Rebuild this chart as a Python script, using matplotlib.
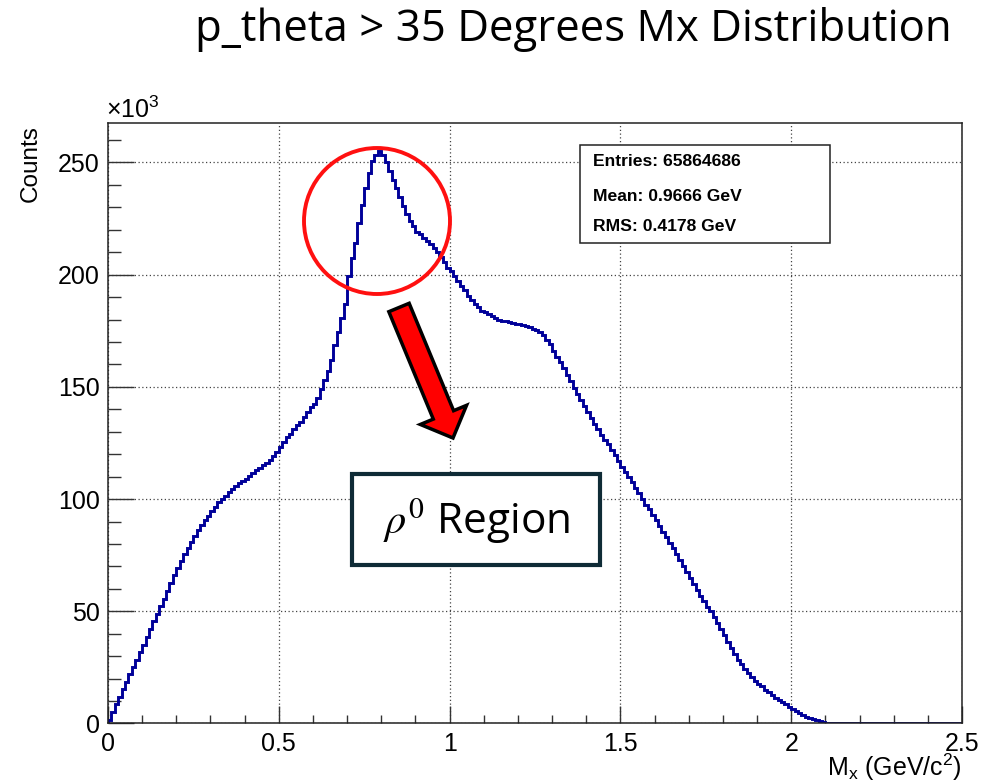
import matplotlib
matplotlib.use("Agg")
import matplotlib.pyplot as plt
import numpy as np
from matplotlib.patches import Circle, FancyArrow, Rectangle
from matplotlib.ticker import MultipleLocator

plt.rcParams["font.family"] = ["Liberation Sans", "DejaVu Sans"]
plt.rcParams["mathtext.fontset"] = "custom"
plt.rcParams["mathtext.rm"] = "Liberation Sans"
plt.rcParams["mathtext.it"] = "Liberation Sans:italic"

# Missing-mass histogram, 0.01 GeV bins from 0 to 2.5, counts in thousands
bin_width = 0.01
x_min, x_max = 0.0, 2.5
counts_k = [
    1.5, 5, 8.5, 12, 15.5, 18.5, 22, 25, 28.5, 32,
    35, 38.5, 42, 45.5, 49, 52.5, 55.5, 59, 62.5, 66,
    69.5, 72.5, 75.5, 78, 81, 83.5, 86, 88.5, 90.5, 92.5,
    94.5, 96.5, 98.5, 100, 101.5, 103, 104.5, 106, 107, 108,
    109, 110.5, 111.5, 113, 114, 115, 116, 117.5, 119, 121,
    123, 125.5, 127.5, 129, 131, 133, 134.5, 136.5, 139, 141,
    142.5, 145, 149, 153, 157, 162, 168.5, 174.5, 180.5, 187,
    199.5, 207.5, 214, 223, 231, 238.5, 245.5, 250.5, 253.5, 255,
    253.5, 250, 246, 242, 238.5, 234.5, 230.5, 227, 224, 221.5,
    219, 218, 216.5, 215, 213.5, 212, 210, 208, 205.5, 203,
    201.5, 199.5, 197, 195, 193, 190.5, 188.5, 187, 185.5, 184,
    183.5, 182.5, 181.5, 180.5, 180, 179.5, 179.5, 179, 178.5, 178,
    178, 177.5, 177, 176.5, 176, 175.5, 174.5, 173, 171, 169,
    166, 163.5, 161, 158.5, 155.5, 152.5, 149.5, 147, 144, 141.5,
    139, 136, 133.5, 131, 128.5, 126.5, 124.5, 122, 119.5, 117,
    114.5, 112, 110, 107.5, 105, 102.5, 100, 97.5, 95.5, 93,
    90.5, 88, 85.5, 83, 80.5, 78, 75.5, 73, 70, 67.5,
    65, 62, 59.5, 57, 54.5, 52, 50, 47.5, 45, 42,
    39.5, 36.5, 33.5, 31, 28.5, 26.5, 24.5, 22.5, 20.5, 19,
    17.5, 16.5, 15, 14, 12.5, 11.5, 10.5, 9.5, 8.5, 7.5,
    6.5, 5.5, 4.5, 3.7, 3, 2.4, 1.9, 1.4, 1, 0.7,
    0.4, 0.2, 0.1, 0.05, 0, 0, 0, 0, 0, 0,
    0, 0, 0, 0, 0, 0, 0, 0, 0, 0,
    0, 0, 0, 0, 0, 0, 0, 0, 0, 0,
    0, 0, 0, 0, 0, 0, 0, 0, 0, 0,
]
stats_lines = ["Entries: 65864686", "Mean: 0.9666 GeV", "RMS: 0.4178 GeV"]
title = "p_theta > 35 Degrees Mx Distribution"

edges = np.linspace(x_min, x_max, len(counts_k) + 1)

fig = plt.figure(figsize=(9.96, 7.83), dpi=100)
ax = fig.add_axes([0.1084, 0.076, 0.8575, 0.767])

ax.stairs(counts_k, edges, color="#000099", lw=2.1, baseline=0)

ax.set_xlim(x_min, x_max)
ax.set_ylim(0, 267.6)
ax.xaxis.set_major_locator(MultipleLocator(0.5))
ax.xaxis.set_minor_locator(MultipleLocator(0.1))
ax.yaxis.set_major_locator(MultipleLocator(50))
ax.yaxis.set_minor_locator(MultipleLocator(10))
ax.xaxis.set_major_formatter(lambda v, p: f"{v:g}")
ax.yaxis.set_major_formatter(lambda v, p: f"{v:g}")

ax.tick_params(axis="x", which="major", direction="in", length=12, width=1,
               labelsize=18, pad=6, color="#333333")
ax.tick_params(axis="x", which="minor", direction="in", length=6, width=1,
               color="#333333")
ax.tick_params(axis="y", which="major", direction="in", length=19, width=1,
               labelsize=18, pad=6, color="#333333")
ax.tick_params(axis="y", which="minor", direction="in", length=9.5, width=1,
               color="#333333")
for side in ["left", "bottom", "right", "top"]:
    ax.spines[side].set_linewidth(1.1)
    ax.spines[side].set_color("#222222")

ax.grid(True, which="major", linestyle=(0, (1, 2)), color="#444444", lw=0.9)
ax.set_axisbelow(True)

ax.set_xlabel(r"M$_{\mathrm{x}}$ (GeV/c$^{2}$)", fontsize=18, ha="right",
              va="top")
ax.xaxis.set_label_coords(1.0, -0.047)

# Stats box
ax.add_patch(Rectangle((0.553, 0.800), 0.292, 0.163, transform=ax.transAxes,
                       facecolor="white", edgecolor="#222222", lw=1.1,
                       zorder=5))
for line, yy in zip(stats_lines, [0.936, 0.878, 0.828]):
    ax.text(0.568, yy, line, transform=ax.transAxes, fontsize=12.6,
            fontweight="bold", va="center", ha="left", zorder=6)

# Overlay in pixel units for annotations
ov = fig.add_axes([0, 0, 1, 1], facecolor="none")
ov.set_xlim(0, 996)
ov.set_ylim(783, 0)
ov.axis("off")

ov.text(31, 125, "Counts", rotation=90, ha="center", va="top", fontsize=17.5)
ov.text(106, 123, r"$\times$10$^{3}$", ha="left", va="bottom", fontsize=18)

ov.text(573, 30, title, ha="center", va="center", fontsize=31.5,
        family=["Open Sans", "DejaVu Sans"])

ov.add_patch(Circle((377, 221), 73, facecolor="none", edgecolor="#ff1010",
                    lw=2.8))
ov.add_patch(FancyArrow(399, 307.5, 54, 130.5, width=22, head_width=50,
                        head_length=25, length_includes_head=True,
                        facecolor="#ff0000", edgecolor="black", lw=2.5))

ov.add_patch(Rectangle((352, 474), 248, 91, facecolor="white",
                       edgecolor="#0f2b36", lw=3))
ov.text(477, 521, r"$\rho^{0}$ Region", ha="center", va="center",
        fontsize=30.5, family=["Open Sans", "DejaVu Sans"],
        math_fontfamily="stix")

fig.savefig("out.png", dpi=100)
